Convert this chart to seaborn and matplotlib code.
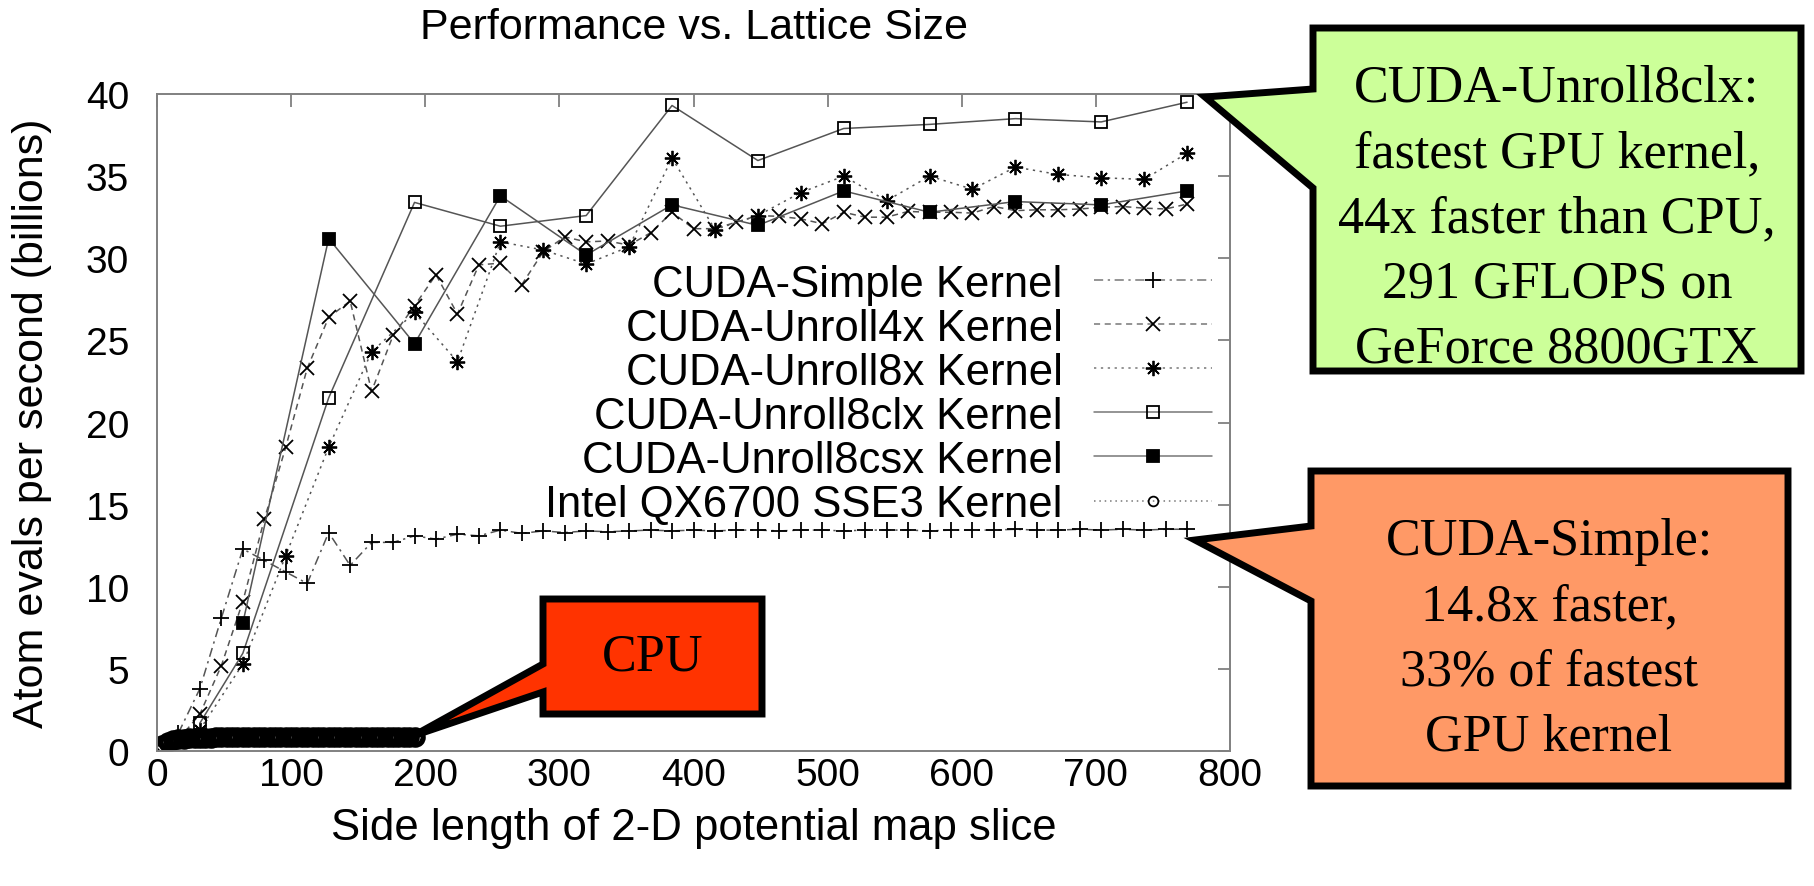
import matplotlib
matplotlib.use("Agg")
import matplotlib.pyplot as plt
import seaborn as sns
from matplotlib.lines import Line2D
from matplotlib.patches import Polygon

# side lengths and rates (billions of atom evals / s)
simple_x = [16, 32, 48, 64, 80, 96, 112, 128, 144, 160, 176, 192,
            208, 224, 240, 256, 272, 288, 304, 320, 336, 352, 368, 384,
            400, 416, 432, 448, 464, 480, 496, 512, 528, 544, 560, 576,
            592, 608, 624, 640, 656, 672, 688, 704, 720, 736, 752, 768]
simple_y = [1.1, 3.8, 8.1, 12.3, 11.6, 10.9, 10.2, 13.3, 11.3, 12.7, 12.7, 13.1,
            12.9, 13.2, 13.1, 13.45, 13.25, 13.4, 13.3, 13.4, 13.35, 13.4, 13.45, 13.4,
            13.45, 13.4, 13.45, 13.45, 13.4, 13.45, 13.45, 13.4, 13.45, 13.45, 13.45, 13.4,
            13.45, 13.45, 13.45, 13.5, 13.45, 13.45, 13.5, 13.45, 13.5, 13.45, 13.5, 13.5]
u4_y = [0.7, 2.25, 5.2, 9.1, 14.1, 18.5, 23.3, 26.4, 27.4, 21.9, 25.3, 27.1,
        29.0, 26.6, 29.6, 29.7, 28.4, 30.4, 31.3, 31.0, 31.05, 30.8, 31.55, 32.8,
        31.8, 31.8, 32.2, 32.6, 32.55, 32.4, 32.1, 32.8, 32.5, 32.5, 32.85, 32.8,
        32.8, 32.75, 33.15, 32.9, 32.95, 32.95, 33.0, 33.1, 33.15, 33.05, 33.0, 33.3]
u8_x = [32, 64, 96, 128, 160, 192, 224, 256, 288, 320, 352, 384,
        416, 448, 480, 512, 544, 576, 608, 640, 672, 704, 736, 768]
u8_y = [1.3, 5.3, 11.9, 18.5, 24.3, 26.7, 23.7, 31.0, 30.5, 29.65, 30.7, 36.1,
        31.75, 32.6, 34.0, 35.0, 33.5, 35.0, 34.2, 35.55, 35.1, 34.9, 34.8, 36.4]
clx_x = [32, 64, 128, 192, 256, 320, 384, 448, 512, 576, 640, 704, 768]
clx_y = [1.7, 5.95, 21.5, 33.4, 31.95, 32.6, 39.3, 35.95, 37.9, 38.15, 38.5, 38.3, 39.5]
csx_x = [64, 128, 192, 256, 320, 384, 448, 512, 576, 640, 704, 768]
csx_y = [7.8, 31.2, 24.8, 33.8, 30.2, 33.25, 32.0, 34.1, 32.8, 33.45, 33.25, 34.1]
cpu_x = [0, 4, 8, 12, 16, 20, 24, 28, 32, 36, 40, 44, 48, 52, 56, 60, 64,
         68, 72, 76, 80, 84, 88, 92, 96, 100, 104, 108, 112, 116, 120, 124, 128,
         132, 136, 140, 144, 148, 152, 156, 160, 164, 168, 172, 176, 180, 184, 188, 192]
cpu_y = [0.0, 0.35, 0.55, 0.65, 0.72, 0.76, 0.78, 0.8, 0.81, 0.82, 0.82, 0.83, 0.83, 0.83, 0.84, 0.84, 0.84,
         0.84, 0.85, 0.85, 0.85, 0.85, 0.85, 0.85, 0.85, 0.86, 0.85, 0.86, 0.86, 0.86, 0.86, 0.86, 0.86,
         0.86, 0.86, 0.86, 0.86, 0.86, 0.86, 0.86, 0.86, 0.86, 0.86, 0.86, 0.86, 0.86, 0.86, 0.86, 0.86]

labels = ["CUDA-Simple Kernel", "CUDA-Unroll4x Kernel", "CUDA-Unroll8x Kernel",
          "CUDA-Unroll8clx Kernel", "CUDA-Unroll8csx Kernel", "Intel QX6700 SSE3 Kernel"]

sns.set_style("white")
plt.rcParams["font.family"] = ["Liberation Sans", "DejaVu Sans"]
plt.rcParams.update({"text.color": "black", "axes.labelcolor": "black",
                     "xtick.labelcolor": "black", "ytick.labelcolor": "black"})

W, H = 1814, 887
fig = plt.figure(figsize=(W / 100, H / 100), dpi=100)
ax = fig.add_axes([157 / W, 1 - 752 / H, (1230 - 157) / W, (752 - 95) / H])

LC = "#555555"
ASTER = (8, 2, 0)
styles = [
    dict(linestyle=(0, (6, 3, 1.5, 3)), marker="+", markersize=11, markerfacecolor="none"),
    dict(linestyle=(0, (4, 3)), marker="x", markersize=10, markerfacecolor="none"),
    dict(linestyle=(0, (1.5, 3)), marker=ASTER, markersize=11, markerfacecolor="none"),
    dict(linestyle="-", marker="s", markersize=9, markerfacecolor="none"),
    dict(linestyle="-", marker="s", markersize=9, markerfacecolor="black"),
    dict(linestyle=(0, (1, 2.5)), marker="o", markersize=9, markerfacecolor="none"),
]
series = [(simple_x, simple_y), (simple_x, u4_y), (u8_x, u8_y),
          (clx_x, clx_y), (csx_x, csx_y), (cpu_x, cpu_y)]

for (xs, ys), st in zip(series, styles):
    kw = dict(st)
    mew = 1.3
    if kw["marker"] == "o":
        # the CPU samples are so dense they merge into a thick band
        kw["markersize"] = 11
        mew = 3.8
    sns.lineplot(x=xs, y=ys, ax=ax, color=LC, linewidth=1.1, errorbar=None,
                 markeredgecolor="black", markeredgewidth=mew, legend=False, **kw)

ax.set_xlim(0, 800)
ax.set_ylim(0, 40)
ax.set_xticks(range(0, 801, 100))
ax.set_yticks(range(0, 41, 5))
ax.tick_params(direction="in", length=9, width=1.3, color="#808080",
               top=True, right=True, labelsize=28)
ax.tick_params(axis="x", pad=4)
ax.tick_params(axis="y", pad=20)
for sp in ax.spines.values():
    sp.set_color("#808080")
    sp.set_linewidth(1.4)

ax.set_ylabel("Atom evals per second (billions)", fontsize=31)
ax.yaxis.set_label_coords(-0.098, 0.5)
ax.set_xlabel("Side length of 2-D potential map slice", fontsize=31.5)
ax.xaxis.set_label_coords(0.5, -0.085)
fig.text(694 / W, 1 - 28 / H, "Performance vs. Lattice Size", ha="center", va="center", fontsize=31)

handles = []
for st in styles:
    s = dict(st)
    if s["marker"] == "o":
        s["markersize"] = 7
    handles.append(Line2D([], [], color="#777777", linewidth=1.1, markeredgecolor="black",
                          markeredgewidth=1.3, **s))
ax.legend(handles, labels, loc="upper right", bbox_to_anchor=(0.983, 0.742),
          frameon=False, markerfirst=False, fontsize=31.4, handlelength=2.7,
          handletextpad=0.72, labelspacing=0.07, borderpad=0, borderaxespad=0, numpoints=1)


def callout(pts, color):
    poly = Polygon([(x / W, 1 - y / H) for x, y in pts], closed=True, transform=fig.transFigure,
                   facecolor=color, edgecolor="black", linewidth=5, joinstyle="miter", zorder=4)
    fig.add_artist(poly)


def box_text(x, y, s):
    fig.text(x / W, 1 - y / H, s, ha="center", va="center", fontsize=37.5, color="black",
             family=["Liberation Serif", "DejaVu Serif"], linespacing=1.46, zorder=5)


callout([(1313, 29), (1801, 29), (1801, 372), (1313, 372), (1313, 189), (1205, 98), (1313, 90)], "#ccff99")
box_text(1557, 219, "CUDA-Unroll8clx:\nfastest GPU kernel,\n44x faster than CPU,\n291 GFLOPS on\nGeForce 8800GTX")

callout([(1311, 472), (1788, 472), (1788, 787), (1311, 787), (1311, 602), (1195, 541), (1311, 527)], "#ff9966")
box_text(1549, 640, "CUDA-Simple:\n14.8x faster,\n33% of fastest\nGPU kernel")

callout([(543, 600), (762, 600), (762, 715), (543, 715), (543, 693), (413, 737), (543, 665)], "#ff3300")
box_text(653, 658, "CPU")

fig.savefig("out.png", dpi=100)
